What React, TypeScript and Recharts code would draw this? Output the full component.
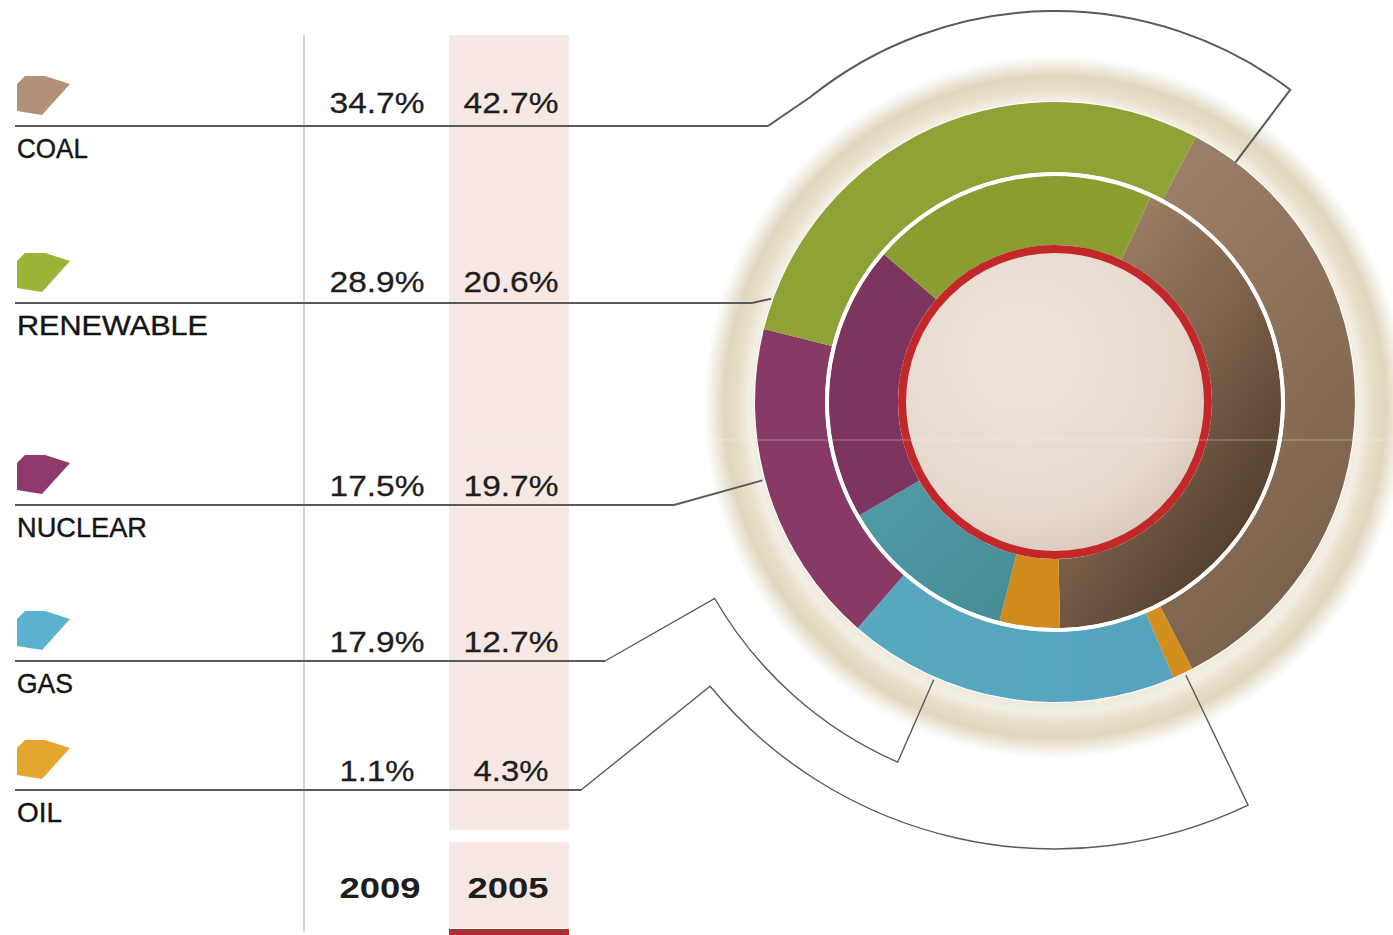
import { PieChart, Pie, Cell } from "recharts";

// data
const CATEGORIES = ["COAL", "RENEWABLE", "NUCLEAR", "GAS", "OIL"];
const SHARE_2009 = [34.7, 28.9, 17.5, 17.9, 1.1];
const SHARE_2005 = [42.7, 20.6, 19.7, 12.7, 4.3];
const YEARS = ["2009", "2005"];
// order the slices run clockwise round the ring, starting with coal
const RING_ORDER = [0, 4, 3, 2, 1];

const W = 1393;
const H = 935;
const CX = 1055;
const CY = 402;

const ICON = ["#b39079", "#9bb336", "#8f3a6d", "#5bb1d0", "#e5a630"];
const OUTER_FILL = ["url(#coalOuter)", "#8ea236", "#883a67", "url(#gasOuter)", "#d38f1e"];
const INNER_FILL = ["url(#coalInner)", "#899d30", "#7c355e", "url(#gasInner)", "#d18b1d"];

// layout of the table rows (y of each rule line) and where each rule stops
const ROW_Y = [126, 303, 505, 661, 790];
const ROW_END = [768, 752, 674, 605, 581];
const PCT_DY = [-13, -11, -9, -9, -9];
const LABEL_W = [71, 191, 130, 56, 45];
const PCT_W = (s: string) => (s.length === 4 ? 75 : 95);

const outerData = RING_ORDER.map((i) => ({ name: CATEGORIES[i], value: SHARE_2009[i], idx: i }));
const innerData = RING_ORDER.map((i) => ({ name: CATEGORIES[i], value: SHARE_2005[i], idx: i }));

// polar helper, degrees clockwise from 12 o'clock
const pol = (r: number, deg: number) => {
  const a = (deg * Math.PI) / 180;
  return `${(CX + r * Math.sin(a)).toFixed(1)},${(CY - r * Math.cos(a)).toFixed(1)}`;
};

const leaders = [
  `M${ROW_END[0]},126 L${pol(391, -38.8)} A391,391 0 0 1 ${pol(391, 37)} L${pol(300, 37)}`,
  `M${ROW_END[1]},303 L${pol(302, 290)}`,
  `M${ROW_END[2]},505 L${pol(303, 255)}`,
  `M${ROW_END[3]},661 L${pol(393, 240)} A393,393 0 0 0 ${pol(393, 203.6)} L${pol(303, 203.6)}`,
  `M${ROW_END[4]},790 L${pol(447, 230.5)} A447,447 0 0 0 ${pol(447, 154.4)} L${pol(303, 154.4)}`,
];

const iconPath = (L: number) =>
  `M17,${L - 42} L25,${L - 50} L45,${L - 50} L70,${L - 42} L42,${L - 11} L17,${L - 15} Z`;

const layer: React.CSSProperties = { position: "absolute", left: 0, top: 0 };
const FONT = "Liberation Sans, Arial, sans-serif";

export default function App() {
  return (
    <div style={{ position: "absolute", left: 0, top: 0, width: W, height: H, overflow: "hidden", background: "#fff" }}>
      {/* background: table column, glow ring */}
      <svg width={W} height={H} style={layer}>
        <defs>
          <radialGradient id="glow" gradientUnits="userSpaceOnUse" cx={CX} cy={CY + 5} r={352}>
            <stop offset="0.83" stopColor="#eee8da" />
            <stop offset="0.87" stopColor="#f3efe4" />
            <stop offset="0.9" stopColor="#e8dfca" />
            <stop offset="0.94" stopColor="#e0d6bd" />
            <stop offset="0.975" stopColor="#f4f0e8" />
            <stop offset="1" stopColor="#ffffff" />
          </radialGradient>
          <linearGradient id="coalOuter" x1="0" y1="0" x2="0.4" y2="1">
            <stop offset="0" stopColor="#9e816a" />
            <stop offset="0.6" stopColor="#8a6f58" />
            <stop offset="1" stopColor="#7a614b" />
          </linearGradient>
          <linearGradient id="coalInner" x1="0.2" y1="0" x2="0.85" y2="0.9">
            <stop offset="0" stopColor="#a3846c" />
            <stop offset="0.5" stopColor="#7c614b" />
            <stop offset="1" stopColor="#4b3829" />
          </linearGradient>
          <linearGradient id="gasOuter" x1="0" y1="0" x2="1" y2="0">
            <stop offset="0" stopColor="#58a8bf" />
            <stop offset="1" stopColor="#55a3bd" />
          </linearGradient>
          <linearGradient id="gasInner" x1="0" y1="0" x2="1" y2="1">
            <stop offset="0" stopColor="#519ca9" />
            <stop offset="1" stopColor="#478c93" />
          </linearGradient>
          <radialGradient id="hole" cx="0.4" cy="0.35" r="0.75">
            <stop offset="0" stopColor="#efe5dc" />
            <stop offset="0.7" stopColor="#e6d8cd" />
            <stop offset="1" stopColor="#d5c3b4" />
          </radialGradient>
        </defs>
        <rect x={449} y={35} width={120} height={795} fill="#f7e8e4" />
        <rect x={449} y={842} width={120} height={86} fill="#f7e8e4" />
        <rect x={449} y={929} width={120} height={6} fill="#a8302f" />
        <line x1={304} y1={35} x2={304} y2={932} stroke="#d4d4d4" strokeWidth={2} />
        <circle cx={CX} cy={CY + 5} r={352} fill="url(#glow)" />
        <circle cx={CX} cy={CY} r={301} fill="#ffffff" />
      </svg>

      <div style={layer}>
        <PieChart width={W} height={H} margin={{ top: 0, right: 0, bottom: 0, left: 0 }}>
          <Pie
            data={outerData}
            dataKey="value"
            nameKey="name"
            cx={CX}
            cy={CY}
            innerRadius={230}
            outerRadius={300}
            startAngle={90 - 28}
            endAngle={90 - 28 - 360}
            stroke="none"
            isAnimationActive={false}
          >
            {outerData.map((d) => (
              <Cell key={d.name} fill={OUTER_FILL[d.idx]} />
            ))}
          </Pie>
          <Pie
            data={innerData}
            dataKey="value"
            nameKey="name"
            cx={CX}
            cy={CY}
            innerRadius={157}
            outerRadius={226}
            startAngle={90 - 25}
            endAngle={90 - 25 - 360}
            stroke="none"
            isAnimationActive={false}
          >
            {innerData.map((d) => (
              <Cell key={d.name} fill={INNER_FILL[d.idx]} />
            ))}
          </Pie>
        </PieChart>
      </div>

      {/* overlay: rings, leaders, table text */}
      <svg width={W} height={H} style={layer}>
        <circle cx={CX} cy={CY} r={228} fill="none" stroke="#ffffff" strokeWidth={3.5} />
        <circle cx={CX} cy={CY} r={153} fill="url(#hole)" stroke="#c2282a" strokeWidth={8} />
        <line x1={450} y1={440} x2={W} y2={440} stroke="#ffffff" strokeOpacity={0.35} strokeWidth={1} />

        {ROW_Y.map((y, i) => (
          <line key={`h${y}`} x1={15} y1={y} x2={ROW_END[i]} y2={y} stroke="#5a5a5a" strokeWidth={2} />
        ))}
        {leaders.map((d, i) => (
          <path key={`l${i}`} d={d} fill="none" stroke="#5a5a5a" strokeWidth={i < 3 ? 2 : 1.4} />
        ))}

        {CATEGORIES.map((c, i) => (
          <g key={c}>
            <path d={iconPath(ROW_Y[i])} fill={ICON[i]} />
            <text
              x={17}
              y={ROW_Y[i] + 32}
              fontFamily={FONT}
              fontSize={28}
              fill="#141414"
              stroke="#141414"
              strokeWidth={0.4}
              textLength={LABEL_W[i]}
              lengthAdjust="spacingAndGlyphs"
            >
              {c}
            </text>
            {[SHARE_2009[i], SHARE_2005[i]].map((v, k) => {
              const s = `${v.toFixed(1)}%`;
              return (
                <text
                  key={k}
                  x={k === 0 ? 377 : 511}
                  y={ROW_Y[i] + PCT_DY[i]}
                  textAnchor="middle"
                  fontFamily={FONT}
                  fontSize={30}
                  fill="#1e1e1e"
                  stroke="#1e1e1e"
                  strokeWidth={0.3}
                  textLength={PCT_W(s)}
                  lengthAdjust="spacingAndGlyphs"
                >
                  {s}
                </text>
              );
            })}
          </g>
        ))}
        {YEARS.map((yr, k) => (
          <text
            key={yr}
            x={k === 0 ? 380 : 508}
            y={898}
            textAnchor="middle"
            fontFamily={FONT}
            fontWeight="bold"
            fontSize={30}
            fill="#1e1e1e"
            textLength={81}
            lengthAdjust="spacingAndGlyphs"
          >
            {yr}
          </text>
        ))}
      </svg>
    </div>
  );
}
